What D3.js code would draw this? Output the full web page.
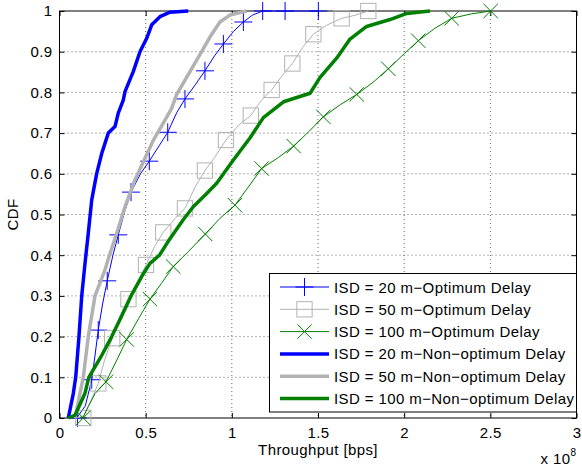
<!DOCTYPE html>
<html>
<head>
<meta charset="utf-8">
<script src="https://cdn.jsdelivr.net/npm/d3@7"></script>
<style>
  body { margin: 0; background: #fff; }
  text { font-family: "Liberation Sans", Arial, Helvetica, sans-serif; fill: #000; letter-spacing: 0.4px; }
</style>
</head>
<body>
<svg width="582" height="466"></svg>
<script>
// throughput in units of 1e8 bps, paired with CDF value
const xTicks = [0, 0.5, 1, 1.5, 2, 2.5, 3];
const yTicks = [0, 0.1, 0.2, 0.3, 0.4, 0.5, 0.6, 0.7, 0.8, 0.9, 1];
const xTickLabels = ["0", "0.5", "1", "1.5", "2", "2.5", "3"];
const yTickLabels = ["0", "0.1", "0.2", "0.3", "0.4", "0.5", "0.6", "0.7", "0.8", "0.9", "1"];

const seriesNames = [
  "ISD = 20 m\u2212Optimum Delay",
  "ISD = 50 m\u2212Optimum Delay",
  "ISD = 100 m\u2212Optimum Delay",
  "ISD = 20 m\u2212Non\u2212optimum Delay",
  "ISD = 50 m\u2212Non\u2212optimum Delay",
  "ISD = 100 m\u2212Non\u2212optimum Delay"
];

const isd20Opt = [[0.1, 0], [0.105, 0.003], [0.15, 0.03], [0.187, 0.094], [0.205, 0.15], [0.225, 0.216],
  [0.25, 0.28], [0.277, 0.337], [0.31, 0.4], [0.341, 0.45], [0.38, 0.51], [0.415, 0.555], [0.47, 0.6],
  [0.521, 0.631], [0.58, 0.67], [0.628, 0.702], [0.68, 0.75], [0.728, 0.784], [0.79, 0.82], [0.844, 0.853],
  [0.9, 0.89], [0.951, 0.919], [1.01, 0.95], [1.067, 0.973], [1.12, 0.99], [1.179, 1.0], [1.309, 1.0], [1.502, 1.0]];
const isd20OptMarks = [[0.105, 0], [0.187, 0.094], [0.225, 0.216], [0.277, 0.337], [0.341, 0.45], [0.415, 0.555],
  [0.521, 0.631], [0.628, 0.702], [0.728, 0.784], [0.844, 0.853], [0.951, 0.919], [1.067, 0.973],
  [1.179, 1.0], [1.309, 1.0], [1.502, 1.0]];

const isd50Opt = [[0.1, 0], [0.138, 0.005], [0.18, 0.04], [0.225, 0.085], [0.26, 0.14], [0.306, 0.196],
  [0.35, 0.25], [0.4, 0.292], [0.45, 0.33], [0.502, 0.376], [0.55, 0.42], [0.602, 0.456], [0.67, 0.49],
  [0.728, 0.515], [0.79, 0.57], [0.844, 0.608], [0.9, 0.64], [0.966, 0.683], [1.04, 0.72], [1.11, 0.743],
  [1.17, 0.78], [1.231, 0.806], [1.29, 0.84], [1.351, 0.871], [1.41, 0.91], [1.473, 0.943], [1.55, 0.965],
  [1.637, 0.982], [1.72, 0.99], [1.792, 1.0]];
const isd50OptMarks = [[0.138, 0], [0.225, 0.085], [0.306, 0.196], [0.4, 0.292], [0.502, 0.376], [0.602, 0.456],
  [0.728, 0.515], [0.844, 0.608], [0.966, 0.683], [1.11, 0.743], [1.231, 0.806], [1.351, 0.871],
  [1.473, 0.943], [1.637, 0.982], [1.792, 1.0]];

const isd100Opt = [[0.12, 0], [0.138, 0.002], [0.167, 0.028], [0.206, 0.06], [0.27, 0.089], [0.33, 0.14],
  [0.39, 0.193], [0.46, 0.245], [0.525, 0.292], [0.59, 0.33], [0.66, 0.372], [0.75, 0.41], [0.846, 0.452],
  [0.93, 0.49], [1.018, 0.523], [1.1, 0.57], [1.173, 0.613], [1.27, 0.64], [1.359, 0.668], [1.45, 0.705],
  [1.531, 0.74], [1.63, 0.77], [1.725, 0.795], [1.82, 0.825], [1.908, 0.858], [2.0, 0.895], [2.082, 0.927],
  [2.18, 0.958], [2.276, 0.982], [2.39, 0.993], [2.502, 1.0]];
const isd100OptMarks = [[0.138, 0], [0.27, 0.089], [0.39, 0.193], [0.525, 0.292], [0.66, 0.372], [0.846, 0.452],
  [1.018, 0.523], [1.173, 0.613], [1.359, 0.668], [1.531, 0.74], [1.725, 0.795], [1.908, 0.858],
  [2.082, 0.927], [2.276, 0.982], [2.502, 1.0]];

const isd20NonOpt = [[0.051, 0], [0.08, 0.06], [0.094, 0.1], [0.113, 0.2], [0.129, 0.3], [0.148, 0.38],
  [0.167, 0.454], [0.187, 0.536], [0.216, 0.601], [0.245, 0.65], [0.283, 0.7], [0.322, 0.716], [0.341, 0.749],
  [0.37, 0.781], [0.38, 0.802], [0.428, 0.851], [0.467, 0.9], [0.506, 0.933], [0.535, 0.966], [0.583, 0.986],
  [0.641, 0.997], [0.747, 1.0]];

const isd50NonOpt = [[0.09, 0], [0.119, 0.061], [0.138, 0.1], [0.167, 0.2], [0.206, 0.3], [0.264, 0.364],
  [0.29, 0.4], [0.332, 0.454], [0.38, 0.519], [0.438, 0.585], [0.496, 0.638], [0.545, 0.683], [0.612, 0.732],
  [0.65, 0.76], [0.68, 0.795], [0.757, 0.851], [0.825, 0.9], [0.873, 0.936], [0.931, 0.973], [0.989, 0.99],
  [1.086, 1.0]];

const isd100NonOpt = [[0.051, 0], [0.09, 0.007], [0.148, 0.061], [0.17, 0.1], [0.24, 0.15], [0.303, 0.2],
  [0.36, 0.25], [0.415, 0.3], [0.48, 0.35], [0.525, 0.38], [0.58, 0.4], [0.64, 0.44], [0.718, 0.487],
  [0.776, 0.519], [0.85, 0.55], [0.912, 0.577], [1.009, 0.634], [1.105, 0.688], [1.183, 0.738], [1.3, 0.777],
  [1.454, 0.798], [1.512, 0.837], [1.608, 0.884], [1.686, 0.931], [1.782, 0.962], [1.918, 0.979],
  [2.015, 0.994], [2.15, 1.0]];

const margin = { top: 11, right: 5.5, bottom: 48, left: 59.5 };
const width = 582 - margin.left - margin.right;
const height = 466 - margin.top - margin.bottom;
const fontSize = 15;

const blue = "#0000ff", gray = "#b2b2b2", green = "#008000";

const series = [
  { name: seriesNames[0], data: isd20Opt, marks: isd20OptMarks, color: blue, width: 1, marker: "plus" },
  { name: seriesNames[1], data: isd50Opt, marks: isd50OptMarks, color: gray, width: 1, marker: "square" },
  { name: seriesNames[2], data: isd100Opt, marks: isd100OptMarks, color: green, width: 1, marker: "cross" },
  { name: seriesNames[3], data: isd20NonOpt, marks: [], color: blue, width: 3.5 },
  { name: seriesNames[4], data: isd50NonOpt, marks: [], color: gray, width: 3.5 },
  { name: seriesNames[5], data: isd100NonOpt, marks: [], color: green, width: 3.5 }
];

const x = d3.scaleLinear().domain([0, 3]).range([0, width]);
const y = d3.scaleLinear().domain([0, 1]).range([height, 0]);

const svg = d3.select("svg")
  .append("g")
  .attr("transform", `translate(${margin.left},${margin.top})`);

// dotted grid
svg.append("g").selectAll("line")
  .data(xTicks.slice(1, -1))
  .join("line")
  .attr("x1", d => x(d)).attr("x2", d => x(d))
  .attr("y1", 0).attr("y2", height)
  .attr("stroke", "#666").attr("stroke-dasharray", "1,3");
svg.append("g").selectAll("line")
  .data(yTicks.slice(1, -1))
  .join("line")
  .attr("y1", d => y(d)).attr("y2", d => y(d))
  .attr("x1", 0).attr("x2", width)
  .attr("stroke", "#666").attr("stroke-dasharray", "1,3");

// axes, ticks inward on all sides
const tickLen = 5;
svg.append("g").attr("transform", `translate(0,${height})`)
  .call(d3.axisBottom(x).tickValues(xTicks).tickSize(-tickLen).tickPadding(9)
    .tickFormat((d, i) => xTickLabels[i]));
svg.append("g")
  .call(d3.axisLeft(y).tickValues(yTicks).tickSize(-tickLen).tickPadding(7)
    .tickFormat((d, i) => yTickLabels[i]));
svg.append("g").call(d3.axisTop(x).tickValues(xTicks).tickSize(-tickLen).tickFormat(""));
svg.append("g").attr("transform", `translate(${width},0)`)
  .call(d3.axisRight(y).tickValues(yTicks).tickSize(-tickLen).tickFormat(""));
svg.selectAll(".domain").remove();
svg.selectAll(".tick line").attr("stroke", "#000");
svg.selectAll(".tick text").attr("font-size", fontSize)
  .style("font-family", "'Liberation Sans', Arial, sans-serif");

svg.append("rect")
  .attr("width", width).attr("height", height)
  .attr("fill", "none").attr("stroke", "#000").attr("stroke-width", 1);

// curves
const line = d3.line().x(d => x(d[0])).y(d => y(d[1]));

function drawMarker(g, type, color, size) {
  const h = size / 2;
  if (type === "plus") {
    g.append("path").attr("d", `M${-h},0H${h}M0,${-h}V${h}`);
  } else if (type === "square") {
    g.append("rect").attr("x", -h * 0.85).attr("y", -h * 0.85)
      .attr("width", h * 1.7).attr("height", h * 1.7);
  } else if (type === "cross") {
    const c = h * 0.8;
    g.append("path").attr("d", `M${-c},${-c}L${c},${c}M${-c},${c}L${c},${-c}`);
  }
  g.selectAll("*").attr("fill", "none").attr("stroke", color).attr("stroke-width", 1);
}

series.forEach(s => {
  svg.append("path")
    .datum(s.data)
    .attr("fill", "none")
    .attr("stroke", s.color)
    .attr("stroke-width", s.width)
    .attr("stroke-linejoin", "round")
    .attr("d", line);
  svg.append("g").selectAll("g")
    .data(s.marks)
    .join("g")
    .attr("transform", d => `translate(${x(d[0])},${y(d[1])})`)
    .each(function () { drawMarker(d3.select(this), s.marker, s.color, 18); });
});

// labels
svg.append("text")
  .attr("transform", `translate(-42,${height / 2}) rotate(-90)`)
  .attr("text-anchor", "middle")
  .attr("font-size", fontSize)
  .text("CDF");
svg.append("text")
  .attr("x", width / 2).attr("y", height + 37)
  .attr("text-anchor", "middle")
  .attr("font-size", fontSize)
  .text("Throughput [bps]");
const mult = svg.append("text")
  .attr("x", width - 36).attr("y", height + 46)
  .attr("font-size", fontSize);
mult.append("tspan").text("x 10");
mult.append("tspan").attr("dy", -8).attr("font-size", 10).text("8");

// legend
const lg = svg.append("g").attr("transform", `translate(${269.5 - margin.left},${273.5 - margin.top})`);
lg.append("rect")
  .attr("width", width - (269.5 - margin.left)).attr("height", 138.5)
  .attr("fill", "#fff").attr("stroke", "#000").attr("stroke-width", 1);
const row = lg.selectAll(".row")
  .data(series)
  .join("g")
  .attr("class", "row")
  .attr("transform", (d, i) => `translate(0,${13.5 + i * 22.3})`);
row.append("line")
  .attr("x1", 10.5).attr("x2", 59.5)
  .attr("stroke", d => d.color)
  .attr("stroke-width", d => d.width);
row.filter(d => d.marker)
  .append("g")
  .attr("transform", "translate(35,0)")
  .each(function (d) { drawMarker(d3.select(this), d.marker, d.color, 18); });
row.append("text")
  .attr("x", 64.5).attr("y", 5.5)
  .attr("font-size", fontSize)
  .text(d => d.name);
</script>
</body>
</html>
